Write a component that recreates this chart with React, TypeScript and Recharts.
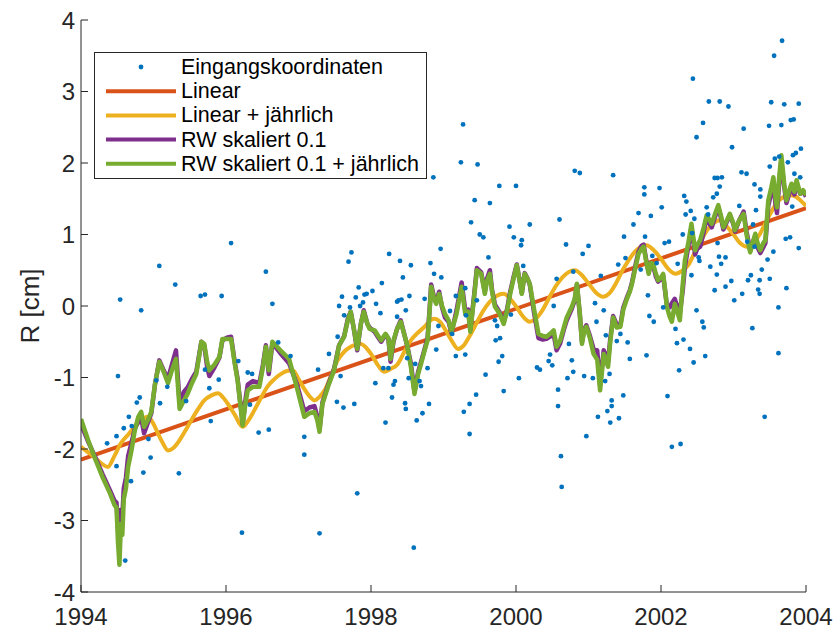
import React from "react";
import {
  ComposedChart,
  Line,
  Scatter,
  XAxis,
  YAxis,
  Legend,
} from "recharts";

const FONT = "'Liberation Sans', Arial, Helvetica, sans-serif";
const AXIS = "#262626";

const xTicks = [1994, 1996, 1998, 2000, 2002, 2004];
const yTicks = [-4, -3, -2, -1, 0, 1, 2, 3, 4];

// Eingangskoordinaten [Jahr, cm]
const inputPts: [number, number][] = [
  [1994.36, -1.92], [1994.49, -1.82], [1994.49, -2.24], [1994.51, -0.98], [1994.54, 0.09],
  [1994.59, -1.71], [1994.61, -3.56], [1994.66, -1.55], [1994.69, -2.45], [1994.7, -1.68],
  [1994.77, -1.35], [1994.81, -1.28], [1994.83, -0.06], [1994.86, -2.33], [1994.93, -1.86],
  [1994.96, -2.12],
  [1995.04, -1.04], [1995.08, 0.56], [1995.09, -1.36], [1995.19, -1.13], [1995.3, 0.3],
  [1995.35, -2.34], [1995.45, -1.33], [1995.65, 0.14], [1995.71, 0.16], [1995.71, -0.89],
  [1995.77, -1.15], [1995.79, -1.61], [1995.9, -1.03], [1995.94, 0.14],
  [1996.07, 0.88], [1996.17, -0.77], [1996.22, -3.17], [1996.3, -0.93], [1996.33, -1.38],
  [1996.36, -0.95], [1996.45, -1.77], [1996.55, 0.48], [1996.59, -1.73], [1996.64, 0.03],
  [1996.72, -0.51], [1996.89, -0.7],
  [1997.08, -1.83], [1997.08, -2.08], [1997.27, -0.89], [1997.29, -3.18], [1997.42, -0.67],
  [1997.53, -1.34], [1997.54, -0.43], [1997.56, 0.0], [1997.58, -0.98], [1997.6, 0.13],
  [1997.62, -1.42], [1997.63, -0.13], [1997.69, 0.62], [1997.71, -0.02], [1997.73, 0.75],
  [1997.77, -1.37], [1997.79, 0.12], [1997.81, -2.62], [1997.83, 0.26], [1997.85, 0.0],
  [1997.89, 0.05], [1997.91, 0.16], [1997.94, 0.17],
  [1998.02, 0.21], [1998.06, -1.08], [1998.07, 0.03], [1998.13, -0.1], [1998.15, 0.32],
  [1998.17, -0.87], [1998.2, -1.63], [1998.24, -0.87], [1998.25, 0.73], [1998.29, -1.28],
  [1998.31, -1.1], [1998.33, -1.05], [1998.36, 0.06], [1998.36, -0.15], [1998.38, 0.08],
  [1998.4, 0.63], [1998.42, 0.09], [1998.44, 0.4], [1998.47, -1.36], [1998.48, -1.44],
  [1998.48, -0.06], [1998.5, -0.73], [1998.52, -1.01], [1998.53, 0.14], [1998.55, 0.57],
  [1998.59, -3.38], [1998.61, -0.81], [1998.63, -1.6], [1998.67, -1.05], [1998.69, -1.12],
  [1998.71, -1.5], [1998.74, 0.1], [1998.78, -0.87], [1998.8, -1.37], [1998.82, 0.6],
  [1998.86, 1.8], [1998.87, 0.45], [1998.9, -0.61], [1998.93, -0.28], [1998.96, 0.8],
  [1998.97, 0.4],
  [1999.09, -0.07], [1999.12, -0.39], [1999.17, 0.14], [1999.17, -0.7], [1999.24, 2.01],
  [1999.27, 2.54], [1999.28, -1.48], [1999.3, 0.25], [1999.3, -0.68], [1999.31, -0.13],
  [1999.36, -1.37], [1999.36, -1.79], [1999.38, 1.17], [1999.43, 1.48], [1999.45, -1.24],
  [1999.46, 0.08], [1999.47, 1.98], [1999.5, 1.0], [1999.55, 0.96], [1999.58, -0.96],
  [1999.62, 0.68], [1999.64, 1.44], [1999.71, -0.2], [1999.72, -0.48], [1999.74, -0.28],
  [1999.76, -0.78], [1999.77, 1.68], [1999.78, -0.45], [1999.81, -0.7], [1999.83, -1.19],
  [1999.91, 1.11], [1999.93, -0.12], [1999.97, 0.96],
  [2000.0, 1.68], [2000.04, -1.01], [2000.07, 0.85], [2000.08, 0.92], [2000.1, 0.56],
  [2000.19, 1.14], [2000.29, -0.86], [2000.33, -0.89], [2000.45, -0.77], [2000.47, -0.68],
  [2000.5, -0.83], [2000.52, 0.0], [2000.56, 0.38], [2000.58, -1.17], [2000.58, -1.4],
  [2000.6, 1.21], [2000.62, -2.1], [2000.63, -2.53], [2000.69, 0.86], [2000.71, -1.01],
  [2000.73, -0.53], [2000.77, -0.76], [2000.79, -0.92], [2000.79, 0.48], [2000.81, 1.89],
  [2000.88, 1.86], [2000.92, 0.73], [2000.94, -0.98], [2000.97, -1.82], [2001.0, 0.84],
  [2001.06, -1.01], [2001.09, 0.04], [2001.11, -0.22], [2001.13, -1.55], [2001.17, 0.42],
  [2001.21, -0.06], [2001.23, -1.05], [2001.24, -0.41], [2001.26, -1.47], [2001.29, -0.95],
  [2001.3, -1.63], [2001.32, -1.32], [2001.32, -1.4], [2001.34, 1.83], [2001.39, -0.49],
  [2001.41, 0.58], [2001.42, -1.57], [2001.44, -0.39], [2001.48, -1.25], [2001.49, 0.97],
  [2001.51, 0.67], [2001.54, -0.51], [2001.57, -0.74], [2001.62, 1.14], [2001.69, 1.3],
  [2001.72, 0.51], [2001.77, 1.66], [2001.77, 1.56], [2001.78, 0.97], [2001.8, -0.69],
  [2001.82, 0.15], [2001.84, -0.14], [2001.86, 1.26], [2001.88, 0.7], [2001.9, -0.22],
  [2001.94, 0.6], [2001.98, 1.65],
  [2002.01, 1.38], [2002.03, -0.02], [2002.05, 0.88], [2002.09, -1.26], [2002.11, 0.9],
  [2002.15, -1.97], [2002.2, -0.32], [2002.22, -0.52], [2002.23, 0.59], [2002.25, -0.9],
  [2002.27, -1.93], [2002.3, 1.0], [2002.31, -0.47], [2002.32, 1.54], [2002.34, 1.28],
  [2002.35, 1.46], [2002.4, -0.6], [2002.41, 1.33], [2002.42, 0.43], [2002.43, 1.02],
  [2002.44, 3.18], [2002.45, -0.79], [2002.46, 1.22], [2002.49, 2.36], [2002.49, -0.06],
  [2002.52, 0.68], [2002.53, 0.63], [2002.57, -0.22], [2002.58, 2.56], [2002.59, -0.3],
  [2002.61, -0.7], [2002.63, 1.38], [2002.65, 1.28], [2002.66, 2.86], [2002.68, 0.55],
  [2002.72, 1.52], [2002.74, 1.79], [2002.74, 0.22], [2002.77, 1.57], [2002.77, 0.44],
  [2002.78, 1.79], [2002.78, 0.88], [2002.8, 0.69], [2002.81, 2.86], [2002.81, 1.67],
  [2002.83, 0.59], [2002.84, 1.8], [2002.89, 0.68], [2002.89, 0.27], [2002.93, 2.79],
  [2002.97, 0.35], [2002.98, 2.22],
  [2003.01, 0.08], [2003.08, 1.4], [2003.11, 1.87], [2003.12, 0.17], [2003.14, 2.48],
  [2003.18, 1.85], [2003.19, 0.9], [2003.2, 0.36], [2003.24, 0.43], [2003.26, -0.31],
  [2003.27, 1.14], [2003.29, 1.7], [2003.29, 0.83], [2003.31, 1.34], [2003.34, 0.23],
  [2003.36, 0.17], [2003.36, 0.36], [2003.37, 1.63], [2003.37, 1.53], [2003.39, 0.51],
  [2003.43, -1.55], [2003.47, 0.65], [2003.49, 2.52], [2003.5, 0.38], [2003.5, 1.95],
  [2003.52, 2.85], [2003.55, 0.76], [2003.56, 3.5], [2003.57, 2.06], [2003.62, -0.02],
  [2003.62, -0.66], [2003.63, 2.09], [2003.66, 2.53], [2003.67, 3.71], [2003.7, 2.82],
  [2003.72, 0.94], [2003.73, 0.25], [2003.75, 2.01], [2003.78, 0.96], [2003.79, 2.6],
  [2003.81, 1.39], [2003.82, 2.11], [2003.83, 2.61], [2003.84, 1.85], [2003.86, 2.14],
  [2003.9, 0.81], [2003.9, 2.83], [2003.92, 1.8], [2003.93, 2.2],
];

// Linear
const linearPts: [number, number][] = [
  [1994, -2.15],
  [2004, 1.37],
];

// Linear + jährlich
const annualPts: [number, number][] = [
  [1994.0, -1.97], [1994.09, -2.04], [1994.18, -2.11], [1994.28, -2.2], [1994.37, -2.25],
  [1994.46, -2.1], [1994.55, -1.92], [1994.65, -1.8], [1994.74, -1.69], [1994.83, -1.6],
  [1994.92, -1.55], [1995.0, -1.65], [1995.06, -1.78], [1995.13, -1.92], [1995.2, -2.02],
  [1995.27, -1.99], [1995.33, -1.92], [1995.43, -1.76], [1995.52, -1.6], [1995.61, -1.45],
  [1995.7, -1.32], [1995.8, -1.25], [1995.89, -1.22], [1995.96, -1.28], [1996.02, -1.36],
  [1996.12, -1.52], [1996.23, -1.69], [1996.31, -1.6], [1996.39, -1.46], [1996.48, -1.29],
  [1996.57, -1.13], [1996.66, -1.03], [1996.76, -0.95], [1996.84, -0.91], [1996.92, -0.9],
  [1997.0, -1.02], [1997.08, -1.16], [1997.15, -1.26], [1997.22, -1.32], [1997.29, -1.27],
  [1997.36, -1.18], [1997.45, -0.97], [1997.54, -0.76], [1997.63, -0.64], [1997.72, -0.57],
  [1997.79, -0.54], [1997.86, -0.53], [1997.93, -0.58], [1998.0, -0.67], [1998.09, -0.82],
  [1998.18, -0.92], [1998.27, -0.88], [1998.37, -0.81], [1998.46, -0.64], [1998.55, -0.48],
  [1998.65, -0.37], [1998.74, -0.29], [1998.8, -0.22], [1998.87, -0.18], [1998.95, -0.22],
  [1999.03, -0.34], [1999.11, -0.48], [1999.2, -0.6], [1999.28, -0.55], [1999.36, -0.42],
  [1999.45, -0.25], [1999.54, -0.08], [1999.63, 0.05], [1999.73, 0.14], [1999.83, 0.17],
  [1999.92, 0.1], [2000.01, -0.02], [2000.1, -0.15], [2000.19, -0.22], [2000.28, -0.17],
  [2000.37, -0.05], [2000.46, 0.12], [2000.55, 0.28], [2000.64, 0.4], [2000.72, 0.47],
  [2000.81, 0.5], [2000.9, 0.44], [2000.99, 0.33], [2001.1, 0.19], [2001.2, 0.13],
  [2001.29, 0.18], [2001.38, 0.32], [2001.47, 0.5], [2001.56, 0.65], [2001.65, 0.77],
  [2001.73, 0.83], [2001.8, 0.85], [2001.9, 0.78], [2002.0, 0.66], [2002.1, 0.52],
  [2002.2, 0.45], [2002.29, 0.49], [2002.38, 0.58], [2002.47, 0.76], [2002.56, 0.93],
  [2002.65, 1.08], [2002.73, 1.16], [2002.8, 1.2], [2002.9, 1.12], [2003.0, 1.0],
  [2003.09, 0.88], [2003.18, 0.83], [2003.27, 0.88], [2003.36, 1.0], [2003.45, 1.18],
  [2003.54, 1.35], [2003.62, 1.47], [2003.7, 1.53], [2003.78, 1.55], [2003.86, 1.53],
  [2003.93, 1.47], [2004.0, 1.4],
];

// RW skaliert 0.1
const rwPts: [number, number][] = [
  [1994.0, -1.65], [1994.1, -1.9], [1994.2, -2.12], [1994.3, -2.36], [1994.4, -2.58],
  [1994.46, -2.72], [1994.49, -2.75], [1994.51, -3.1], [1994.53, -3.35], [1994.55, -2.85],
  [1994.57, -2.95], [1994.59, -2.55], [1994.62, -2.4], [1994.65, -2.1], [1994.7, -1.9],
  [1994.74, -1.72], [1994.79, -1.62], [1994.83, -1.56], [1994.87, -1.78], [1994.92, -1.64],
  [1994.97, -1.5], [1995.02, -1.1], [1995.08, -0.76], [1995.14, -0.9], [1995.2, -1.02],
  [1995.26, -0.8], [1995.31, -0.62], [1995.36, -1.35], [1995.42, -1.2], [1995.47, -1.14],
  [1995.53, -1.02], [1995.59, -0.92], [1995.63, -0.68], [1995.66, -0.5], [1995.7, -0.55],
  [1995.74, -0.85], [1995.77, -0.98], [1995.84, -0.86], [1995.91, -0.72], [1995.95, -0.48],
  [1996.02, -0.44], [1996.07, -0.43], [1996.12, -0.78], [1996.16, -1.02], [1996.23, -1.65],
  [1996.27, -1.3], [1996.3, -1.1], [1996.37, -1.05], [1996.46, -1.08], [1996.51, -0.82],
  [1996.55, -0.55], [1996.59, -0.95], [1996.64, -0.52], [1996.75, -0.66], [1996.87, -0.8],
  [1996.98, -1.1], [1997.08, -1.47], [1997.15, -1.42], [1997.22, -1.4], [1997.26, -1.55],
  [1997.29, -1.72], [1997.33, -1.35], [1997.41, -1.1], [1997.49, -0.88], [1997.56, -0.55],
  [1997.63, -0.42], [1997.68, -0.18], [1997.72, -0.08], [1997.76, -0.3], [1997.81, -0.62],
  [1997.86, -0.25], [1997.9, -0.06], [1997.95, -0.25], [1997.98, -0.3], [1998.05, -0.36],
  [1998.1, -0.44], [1998.14, -0.5], [1998.2, -0.4], [1998.24, -0.46], [1998.27, -0.78],
  [1998.31, -0.5], [1998.36, -0.32], [1998.41, -0.2], [1998.46, -0.4], [1998.5, -0.56],
  [1998.55, -0.8], [1998.6, -1.2], [1998.65, -0.92], [1998.69, -0.78], [1998.74, -0.6],
  [1998.78, -0.45], [1998.81, -0.02], [1998.83, 0.3], [1998.87, 0.12], [1998.9, 0.05],
  [1998.94, 0.2], [1998.98, -0.02], [1999.02, -0.16], [1999.07, -0.22], [1999.11, -0.38],
  [1999.18, -0.06], [1999.25, 0.33], [1999.3, -0.06], [1999.34, -0.05], [1999.37, -0.33],
  [1999.42, 0.13], [1999.46, 0.53], [1999.52, 0.47], [1999.57, 0.2], [1999.6, 0.38],
  [1999.64, 0.5], [1999.67, 0.22], [1999.71, 0.02], [1999.77, -0.08], [1999.83, -0.23],
  [1999.88, -0.03], [1999.92, 0.2], [1999.97, 0.42], [2000.01, 0.58], [2000.05, 0.36],
  [2000.08, 0.18], [2000.12, 0.46], [2000.16, 0.38], [2000.19, 0.3], [2000.25, -0.1],
  [2000.31, -0.45], [2000.37, -0.47], [2000.42, -0.46], [2000.48, -0.42], [2000.52, -0.4],
  [2000.56, -0.62], [2000.61, -0.52], [2000.66, -0.33], [2000.7, -0.2], [2000.77, -0.04],
  [2000.81, 0.08], [2000.84, 0.3], [2000.88, -0.12], [2000.91, -0.5], [2000.94, -0.33],
  [2000.97, -0.27], [2001.02, -0.42], [2001.07, -0.6], [2001.12, -0.62], [2001.16, -1.1],
  [2001.21, -0.62], [2001.27, -0.78], [2001.3, -0.46], [2001.34, -0.14], [2001.39, -0.26],
  [2001.44, -0.26], [2001.48, -0.02], [2001.53, 0.12], [2001.57, 0.22], [2001.6, 0.33],
  [2001.65, 0.58], [2001.69, 0.76], [2001.73, 0.84], [2001.76, 0.86], [2001.8, 0.62],
  [2001.83, 0.47], [2001.86, 0.6], [2001.89, 0.57], [2001.93, 0.41], [2001.96, 0.34],
  [2002.0, 0.38], [2002.03, 0.42], [2002.06, 0.18], [2002.08, 0.02], [2002.12, -0.02],
  [2002.15, 0.04], [2002.19, 0.1], [2002.23, -0.02], [2002.26, -0.1], [2002.3, 0.22],
  [2002.33, 0.55], [2002.38, 0.85], [2002.42, 1.1], [2002.47, 0.72], [2002.5, 0.8],
  [2002.54, 0.83], [2002.59, 1.04], [2002.63, 1.24], [2002.67, 1.15], [2002.7, 1.1],
  [2002.75, 1.26], [2002.79, 1.38], [2002.83, 1.22], [2002.86, 1.07], [2002.91, 1.18],
  [2002.95, 1.27], [2003.0, 1.14], [2003.02, 1.04], [2003.08, 1.2], [2003.14, 1.32],
  [2003.18, 1.04], [2003.23, 0.78], [2003.27, 0.9], [2003.3, 0.98], [2003.34, 0.8],
  [2003.37, 0.74], [2003.41, 0.82], [2003.44, 0.88], [2003.48, 1.4], [2003.52, 1.58],
  [2003.55, 1.72], [2003.58, 1.42], [2003.6, 1.3], [2003.63, 1.72], [2003.66, 2.02],
  [2003.7, 1.66], [2003.73, 1.44], [2003.77, 1.58], [2003.8, 1.68], [2003.84, 1.56],
  [2003.87, 1.72], [2003.92, 1.57], [2003.96, 1.6], [2004.0, 1.53],
];

// RW skaliert 0.1 + jährlich
const rwAnnualPts: [number, number][] = [
  [1994.0, -1.58], [1994.1, -1.88], [1994.2, -2.15], [1994.3, -2.4], [1994.4, -2.62],
  [1994.46, -2.78], [1994.49, -2.82], [1994.51, -3.3], [1994.53, -3.62], [1994.55, -3.05],
  [1994.57, -3.2], [1994.59, -2.7], [1994.62, -2.55], [1994.65, -2.25], [1994.7, -2.0],
  [1994.74, -1.75], [1994.79, -1.55], [1994.83, -1.48], [1994.87, -1.69], [1994.92, -1.6],
  [1994.97, -1.48], [1995.02, -1.1], [1995.08, -0.78], [1995.14, -0.92], [1995.2, -1.08],
  [1995.26, -0.88], [1995.31, -0.74], [1995.36, -1.44], [1995.42, -1.32], [1995.47, -1.23],
  [1995.53, -1.08], [1995.59, -0.95], [1995.63, -0.7], [1995.66, -0.5], [1995.7, -0.53],
  [1995.74, -0.78], [1995.77, -0.9], [1995.84, -0.82], [1995.91, -0.71], [1995.95, -0.46],
  [1996.02, -0.46], [1996.07, -0.46], [1996.12, -0.8], [1996.16, -1.04], [1996.23, -1.67],
  [1996.27, -1.35], [1996.3, -1.18], [1996.37, -1.13], [1996.46, -1.13], [1996.51, -0.85],
  [1996.55, -0.57], [1996.59, -0.9], [1996.64, -0.5], [1996.75, -0.62], [1996.87, -0.74],
  [1996.98, -1.15], [1997.08, -1.55], [1997.15, -1.5], [1997.22, -1.48], [1997.26, -1.6],
  [1997.29, -1.76], [1997.33, -1.37], [1997.41, -1.12], [1997.49, -0.9], [1997.56, -0.55],
  [1997.63, -0.43], [1997.68, -0.2], [1997.72, -0.08], [1997.76, -0.3], [1997.81, -0.6],
  [1997.86, -0.25], [1997.9, -0.08], [1997.95, -0.25], [1997.98, -0.32], [1998.05, -0.34],
  [1998.1, -0.42], [1998.14, -0.48], [1998.2, -0.39], [1998.24, -0.45], [1998.27, -0.74],
  [1998.31, -0.48], [1998.36, -0.32], [1998.41, -0.22], [1998.46, -0.4], [1998.5, -0.55],
  [1998.55, -0.85], [1998.6, -1.23], [1998.65, -0.95], [1998.69, -0.81], [1998.74, -0.62],
  [1998.78, -0.48], [1998.81, -0.05], [1998.83, 0.27], [1998.87, 0.1], [1998.9, 0.03],
  [1998.94, 0.17], [1998.98, 0.0], [1999.02, -0.11], [1999.07, -0.2], [1999.11, -0.36],
  [1999.18, -0.11], [1999.25, 0.27], [1999.3, -0.11], [1999.34, -0.08], [1999.37, -0.36],
  [1999.42, 0.1], [1999.46, 0.5], [1999.52, 0.45], [1999.57, 0.17], [1999.6, 0.35],
  [1999.64, 0.45], [1999.67, 0.2], [1999.71, -0.01], [1999.77, -0.1], [1999.83, -0.25],
  [1999.88, -0.05], [1999.92, 0.17], [1999.97, 0.4], [2000.01, 0.57], [2000.05, 0.35],
  [2000.08, 0.17], [2000.12, 0.45], [2000.16, 0.38], [2000.19, 0.31], [2000.25, -0.05],
  [2000.31, -0.39], [2000.37, -0.42], [2000.42, -0.43], [2000.48, -0.38], [2000.52, -0.34],
  [2000.56, -0.57], [2000.61, -0.48], [2000.66, -0.3], [2000.7, -0.16], [2000.77, -0.01],
  [2000.81, 0.1], [2000.84, 0.31], [2000.88, -0.1], [2000.91, -0.53], [2000.94, -0.35],
  [2000.97, -0.29], [2001.02, -0.45], [2001.07, -0.67], [2001.12, -0.75], [2001.16, -1.18],
  [2001.21, -0.67], [2001.27, -0.85], [2001.3, -0.5], [2001.34, -0.16], [2001.39, -0.3],
  [2001.44, -0.29], [2001.48, -0.05], [2001.53, 0.1], [2001.57, 0.2], [2001.6, 0.31],
  [2001.65, 0.55], [2001.69, 0.73], [2001.73, 0.8], [2001.76, 0.83], [2001.8, 0.6],
  [2001.83, 0.45], [2001.86, 0.6], [2001.89, 0.59], [2001.93, 0.45], [2001.96, 0.36],
  [2002.0, 0.4], [2002.03, 0.45], [2002.06, 0.2], [2002.08, -0.01], [2002.12, -0.15],
  [2002.15, -0.22], [2002.19, 0.03], [2002.23, -0.1], [2002.26, -0.2], [2002.3, 0.3],
  [2002.33, 0.64], [2002.38, 0.9], [2002.42, 1.15], [2002.47, 0.78], [2002.5, 0.85],
  [2002.54, 0.92], [2002.59, 1.1], [2002.63, 1.27], [2002.67, 1.2], [2002.7, 1.15],
  [2002.75, 1.3], [2002.79, 1.41], [2002.83, 1.25], [2002.86, 1.1], [2002.91, 1.2],
  [2002.95, 1.29], [2003.0, 1.15], [2003.02, 1.06], [2003.08, 1.2], [2003.14, 1.29],
  [2003.18, 1.0], [2003.23, 0.75], [2003.27, 0.9], [2003.3, 1.01], [2003.34, 0.85],
  [2003.37, 0.78], [2003.41, 0.88], [2003.44, 0.92], [2003.48, 1.48], [2003.52, 1.65],
  [2003.55, 1.8], [2003.58, 1.5], [2003.6, 1.38], [2003.63, 1.8], [2003.66, 2.11],
  [2003.7, 1.7], [2003.73, 1.48], [2003.77, 1.62], [2003.8, 1.71], [2003.84, 1.6],
  [2003.87, 1.76], [2003.92, 1.57], [2003.96, 1.62], [2004.0, 1.55],
];

const legendItems = [
  { label: "Eingangskoordinaten", color: "#0072BD", kind: "dot" },
  { label: "Linear", color: "#D95319", kind: "line" },
  { label: "Linear + jährlich", color: "#EDB120", kind: "line" },
  { label: "RW skaliert 0.1", color: "#7E2F8E", kind: "line" },
  { label: "RW skaliert 0.1 + jährlich", color: "#77AC30", kind: "line" },
];

const toRows = (pts: [number, number][]) => pts.map(([t, v]) => ({ t, v }));

function LegendBox() {
  return (
    <svg width={333} height={127} style={{ display: "block" }}>
      <rect x={0.5} y={0.5} width={332} height={126} fill="#fff" stroke={AXIS} strokeWidth={1} />
      {legendItems.map((it, i) => {
        const cy = 15 + i * 24.2;
        return (
          <g key={it.label}>
            {it.kind === "dot" ? (
              <circle cx={47} cy={cy} r={2.4} fill={it.color} />
            ) : (
              <line x1={12} x2={82} y1={cy} y2={cy} stroke={it.color} strokeWidth={4} />
            )}
            <text
              x={87}
              y={cy}
              dominantBaseline="central"
              fontFamily={FONT}
              fontSize={21.5}
              fill="#000"
            >
              {it.label}
            </text>
          </g>
        );
      })}
    </svg>
  );
}

const Dot = (p: any) => <circle cx={p.cx} cy={p.cy} r={2.4} fill="#0072BD" />;

export default function App() {
  const tickStyle = { fontSize: 24, fill: AXIS, fontFamily: FONT };
  return (
    <div style={{ position: "absolute", left: 0, top: 0, width: 835, height: 631, background: "#fff" }}>
      <ComposedChart
        width={835}
        height={631}
        margin={{ top: 20, right: 29, bottom: 0, left: 0 }}
      >
        <XAxis
          dataKey="t"
          type="number"
          domain={[1994, 2004]}
          ticks={xTicks}
          allowDataOverflow
          height={39}
          stroke={AXIS}
          tickSize={-7}
          tickMargin={23}
          tick={tickStyle}
        />
        <XAxis
          xAxisId="top"
          orientation="top"
          type="number"
          domain={[1994, 2004]}
          ticks={xTicks}
          height={0}
          stroke={AXIS}
          tickSize={-7}
          tick={false}
        />
        <YAxis
          dataKey="v"
          type="number"
          domain={[-4, 4]}
          ticks={yTicks}
          allowDataOverflow
          width={81}
          stroke={AXIS}
          tickSize={-7}
          tickMargin={13}
          tick={tickStyle}
          label={{
            value: "R [cm]",
            angle: -90,
            position: "center",
            dx: -11,
            style: { fontSize: 26, fill: AXIS, fontFamily: FONT },
          }}
        />
        <YAxis
          yAxisId="right"
          orientation="right"
          type="number"
          domain={[-4, 4]}
          ticks={yTicks}
          width={0}
          stroke={AXIS}
          tickSize={-7}
          tick={false}
        />
        <Scatter
          name="Eingangskoordinaten"
          data={toRows(inputPts)}
          shape={Dot}
          isAnimationActive={false}
        />
        <Line
          name="Linear"
          data={toRows(linearPts)}
          dataKey="v"
          stroke="#D95319"
          strokeWidth={4}
          dot={false}
          isAnimationActive={false}
        />
        <Line
          name="Linear + jährlich"
          data={toRows(annualPts)}
          dataKey="v"
          type="monotone"
          stroke="#EDB120"
          strokeWidth={4}
          dot={false}
          isAnimationActive={false}
        />
        <Line
          name="RW skaliert 0.1"
          data={toRows(rwPts)}
          dataKey="v"
          stroke="#7E2F8E"
          strokeWidth={4.5}
          strokeLinejoin="round"
          dot={false}
          isAnimationActive={false}
        />
        <Line
          name="RW skaliert 0.1 + jährlich"
          data={toRows(rwAnnualPts)}
          dataKey="v"
          stroke="#77AC30"
          strokeWidth={4.5}
          strokeLinejoin="round"
          dot={false}
          isAnimationActive={false}
        />
        <Legend
          layout="horizontal"
          verticalAlign="middle"
          align="center"
          wrapperStyle={{ left: 94, top: 52, width: 333, height: 127 }}
          content={() => <LegendBox />}
        />
      </ComposedChart>
    </div>
  );
}
